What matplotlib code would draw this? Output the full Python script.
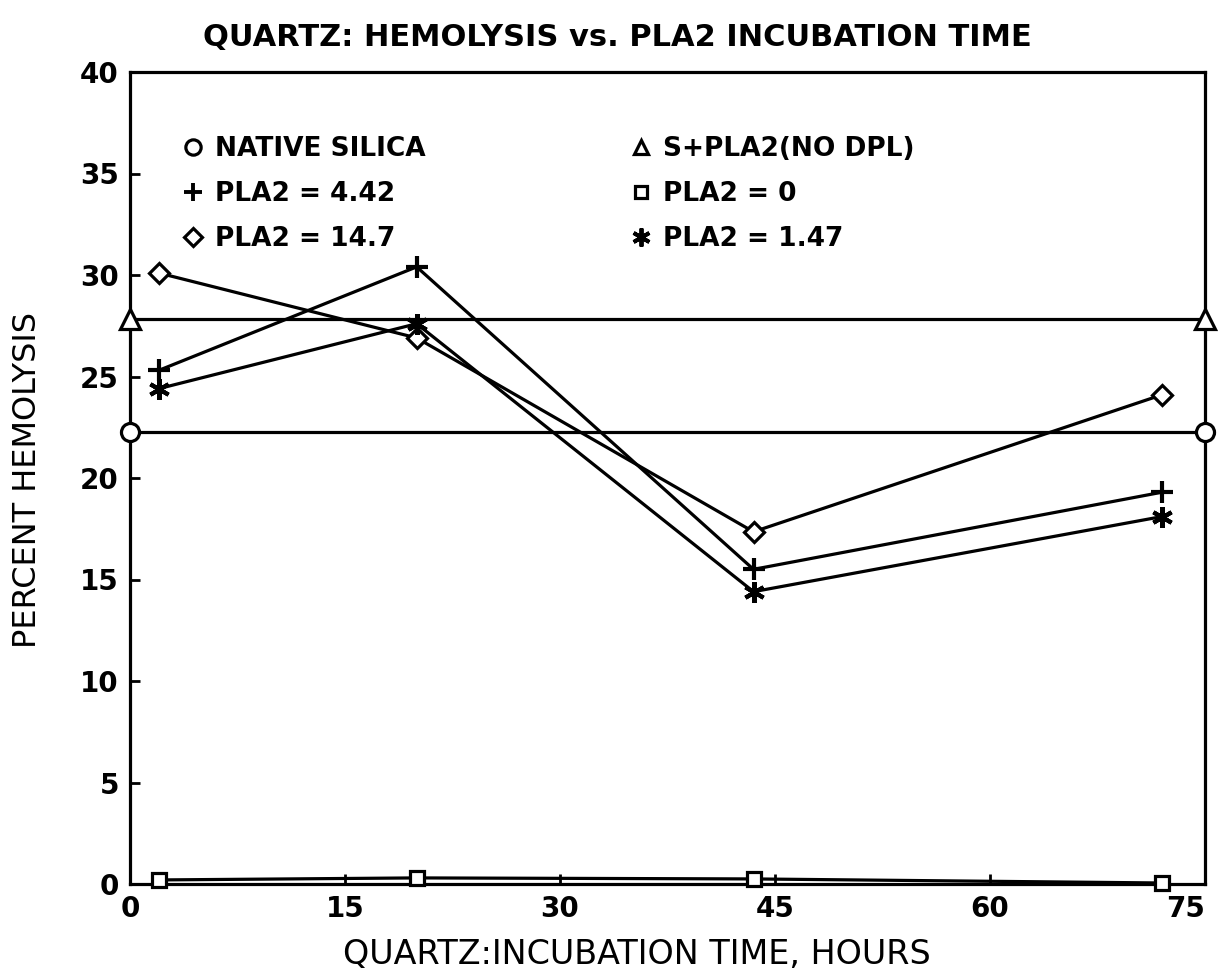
import matplotlib
matplotlib.use("Agg")
import matplotlib.pyplot as plt
from matplotlib.lines import Line2D

# ---- data ----
hours = [2, 20, 43.5, 72]
pla2_4_42 = [25.3, 30.4, 15.5, 19.3]
pla2_14_7 = [30.1, 26.9, 17.35, 24.1]
pla2_1_47 = [24.4, 27.6, 14.4, 18.1]
pla2_0 = [0.2, 0.3, 0.25, 0.05]
ref_hours = [0, 75]
native_silica = [22.25, 22.25]
s_pla2_no_dpl = [27.85, 27.85]

x_ticks = [0, 15, 30, 45, 60, 75]
y_ticks = [0, 5, 10, 15, 20, 25, 30, 35, 40]

title = "QUARTZ: HEMOLYSIS vs. PLA2 INCUBATION TIME"
xlabel = "QUARTZ:INCUBATION TIME, HOURS"
ylabel = "PERCENT HEMOLYSIS"

plt.rcParams['font.family'] = ['DejaVu Sans']

fig = plt.figure(figsize=(12.18, 9.74), dpi=100)
ax = fig.add_axes([130/1218, 90/974, (1205-130)/1218, (884-72)/974])

lw = 2.3
mkw = dict(color='black', lw=lw, markerfacecolor='white', markeredgecolor='black',
           markeredgewidth=2.3, clip_on=False, zorder=3)

ax.plot(ref_hours, native_silica, marker='o', markersize=13, **mkw)
ax.plot(ref_hours, s_pla2_no_dpl, marker='^', markersize=14, **mkw)
ax.plot(hours, pla2_14_7, marker='D', markersize=10, **mkw)
ax.plot(hours, pla2_4_42, marker='+', markersize=16, **{**mkw, 'markeredgewidth': 3})
ax.plot(hours, pla2_1_47, marker=(6, 2, 0), markersize=15, **{**mkw, 'markeredgewidth': 3})
ax.plot(hours, pla2_0, marker='s', markersize=10, **mkw)

ax.set_xlim(0, 75)
ax.set_ylim(0, 40)
ax.set_xticks(x_ticks)
ax.set_yticks(y_ticks)
ax.set_xticklabels([str(t) for t in x_ticks], fontsize=20, fontweight='bold')
ax.set_yticklabels([str(t) for t in y_ticks], fontsize=20, fontweight='bold')
ax.get_xticklabels()[-1].set_horizontalalignment('right')
ax.tick_params(direction='in', length=7, width=2, pad=8)
for s in ax.spines.values():
    s.set_linewidth(2.3)

# legend
handles = [
    Line2D([], [], ls='none', marker='o', markersize=11, mfc='white', mec='black', mew=2.3),
    Line2D([], [], ls='none', marker='+', markersize=13, mec='black', mew=2.8),
    Line2D([], [], ls='none', marker='D', markersize=9, mfc='white', mec='black', mew=2.3),
    Line2D([], [], ls='none', marker='^', markersize=10, mfc='white', mec='black', mew=2.3),
    Line2D([], [], ls='none', marker='s', markersize=9, mfc='white', mec='black', mew=2.3),
    Line2D([], [], ls='none', marker=(6, 2, 0), markersize=13, mec='black', mew=2.8),
]
labels = ["NATIVE SILICA", "PLA2 = 4.42", "PLA2 = 14.7",
          "S+PLA2(NO DPL)", "PLA2 = 0", "PLA2 = 1.47"]
ax.legend(handles, labels, ncol=2, frameon=False, loc='upper left',
          bbox_to_anchor=(0.025, 0.95), handlelength=0.9,
          handletextpad=0.4, columnspacing=7.7, labelspacing=0.72,
          prop={'size': 19, 'weight': 'bold'})

fig.text(0.507, 0.962, title, ha='center', va='center', fontsize=22, fontweight='bold')
fig.text(637/1218, 19/974, xlabel, ha='center', va='center', fontsize=24)
fig.text(28/1218, 0.507, ylabel, ha='center', va='center', rotation=90, fontsize=23)

fig.savefig("out.png", dpi=100)
